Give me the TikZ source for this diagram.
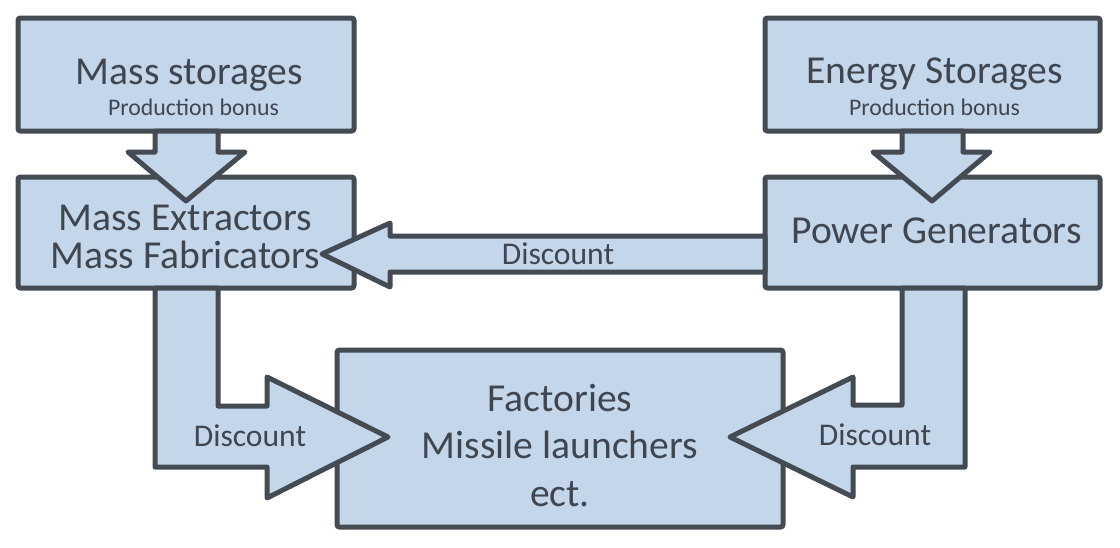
\documentclass[tikz,border=0pt]{standalone}
\usepackage{fontspec}
\setmainfont{Carlito}
\usetikzlibrary{calc}
\definecolor{boxfill}{HTML}{C4D6EA}
\definecolor{boxline}{HTML}{454B52}
\definecolor{txt}{HTML}{3F4650}
\tikzset{
  blockbox/.style={draw=boxline, fill=boxfill, line width=2.5pt, rounded corners=1.2pt, outer sep=0pt, inner sep=0pt},
  blockarrow/.style={draw=boxline, fill=boxfill, line width=2.5pt, line join=round},
  bigtxt/.style={text=txt, font=\fontsize{19.8}{23}\selectfont, anchor=base, inner sep=0pt},
  smalltxt/.style={text=txt, font=\fontsize{11.9}{14}\selectfont, anchor=base, inner sep=0pt},
  midtxt/.style={text=txt, font=\fontsize{15.8}{18}\selectfont, anchor=base, inner sep=0pt},
}
\begin{document}
\begin{tikzpicture}[x=0.5pt, y=-0.5pt]
\useasboundingbox (0,0) rectangle (1120,547);
% boxes
\node[blockbox, minimum width=168pt, minimum height=56.5pt] (ms) at (186,74.5) {};
\node[blockbox, minimum width=168pt, minimum height=55.5pt] (me) at (186,232.5) {};
\node[blockbox, minimum width=167.5pt, minimum height=56.5pt] (es) at (932.5,74.5) {};
\node[blockbox, minimum width=167.5pt, minimum height=55.5pt] (pg) at (932.5,232.5) {};
\node[blockbox, minimum width=223pt, minimum height=88.5pt] (fa) at (560,438.5) {};
% arrows
\draw[blockarrow] ($(ms.south)+(-31,0)$) -- ++(0,21) -- ++(-27,0) -- ($(ms.south)+(0,70)$)
  -- ($(ms.south)+(59,21)$) -- ++(-27,0) -- ($(ms.south)+(32,0)$) -- cycle;
\draw[blockarrow] ($(es.south)+(-30.5,0)$) -- ++(0,21) -- ++(-29,0) -- ($(es.south)+(-0.5,70)$)
  -- ($(es.south)+(57.5,21)$) -- ++(-27,0) -- ($(es.south)+(30.5,0)$) -- cycle;
\draw[blockarrow] ($(pg.west)+(0,3.5)$) -- ($(me.east)+(36,3.5)$) -- ($(me.east)+(36,-9.5)$)
  -- ($(me.east)+(-32,21.5)$) -- ($(me.east)+(36,54.5)$) -- ($(me.east)+(36,39.5)$)
  -- ($(pg.west)+(0,39.5)$) -- cycle;
\draw[blockarrow] ($(me.south)+(-31,0)$) -- ($(fa.west)+(-182,28.5)$) -- ($(fa.west)+(-70,28.5)$)
  -- ($(fa.west)+(-70,59.5)$) -- ($(fa.west)+(51,-1.5)$) -- ($(fa.west)+(-70,-61.5)$)
  -- ($(fa.west)+(-70,-32.5)$) -- ($(fa.west)+(-119,-32.5)$) -- ($(me.south)+(32,0)$) -- cycle;
\draw[blockarrow] ($(pg.south)+(32.5,0)$) -- ($(fa.east)+(182,28.5)$) -- ($(fa.east)+(70,28.5)$)
  -- ($(fa.east)+(70,58.5)$) -- ($(fa.east)+(-53,-1.5)$) -- ($(fa.east)+(70,-61.5)$)
  -- ($(fa.east)+(70,-33.5)$) -- ($(fa.east)+(119,-33.5)$) -- ($(pg.south)+(-30.5,0)$) -- cycle;
% texts
\node[bigtxt] (t1) at (189.5,84) {Mass storages};
\node[smalltxt] (t2) at (193.5,115) {Production bonus};
\node[bigtxt] (t3) at (934.5,83) {Energy Storages};
\node[smalltxt] (t4) at (934.5,115) {Production bonus};
\node[bigtxt] (t5) at (185.5,230) {Mass Extractors};
\node[bigtxt] (t6) at (185.5,268) {Mass Fabricators};
\node[bigtxt] (t7) at (936.5,243) {Power Generators};
\node[midtxt] (t8) at (558,264) {Discount};
\node[midtxt] (t9) at (250,446) {Discount};
\node[midtxt] (t10) at (875,445) {Discount};
\node[bigtxt] (t11) at (560,411) {Factories};
\node[bigtxt] (t12) at (560,458) {Missile launchers};
\node[bigtxt] (t13) at (560,506) {ect.};
\end{tikzpicture}
\end{document}
